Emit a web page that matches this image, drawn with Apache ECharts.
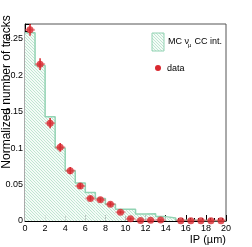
<!DOCTYPE html>
<html><head><meta charset="utf-8">
<script src="https://cdn.jsdelivr.net/npm/echarts@6/dist/echarts.min.js"></script>
<style>html,body{margin:0;padding:0;background:#fff}#c{width:252px;height:247px}</style>
</head><body><div id="c"></div>
<script>
// bin edges of the IP histogram (µm)
const binEdges = [0,1,2,3,4,5,6,7,8,9,10,11,12,13,14,15,16,17,18,19,20];
// bin centres for the data points
const binCenters = [0.5,1.5,2.5,3.5,4.5,5.5,6.5,7.5,8.5,9.5,10.5,11.5,12.5,13.5,14.5,15.5,16.5,17.5,18.5,19.5];
// MC nu_mu CC histogram contents
const mcValues = [0.258,0.213,0.143,0.100,0.069,0.052,0.039,0.031,0.023,0.016,0.016,0.0095,0.010,0.006,0.004,0.001,0.001,0.0008,0.0005,0.0005];
// data values and their errors (null = empty bin)
const dataValues = [0.262,0.215,0.134,0.101,0.069,0.048,0.031,0.029,0.023,0.012,0.003,0.0008,0.001,0.0012,null,0.0005,0.0005,0.0005,0.0005,0.0005];
const dataErrors = [0.008,0.008,0.007,0.006,0.005,0.004,0.003,0.003,0.003,0.002,0.0015,0.001,0.001,0.001,null,0.0005,0.0005,0.0005,0.0005,0.0005];
const xTicks = [0,2,4,6,8,10,12,14,16,18,20];
const yTicks = [0,0.05,0.1,0.15,0.2,0.25];

const RED = '#d9282f';
const GREEN = '#92d3b3';
const HATCH = '#bfe5d1';
const FONT = 'Liberation Sans';
const GAP = 3; // hatch spacing in px

// diagonal hatch lines clipped to a rectangle (texture only)
function hatchLines(x0, y0, w, h){
  const out = [];
  const x1 = x0 + w, y1 = y0 + h;
  const cMin = y0 - x1, cMax = y1 - x0;
  const start = Math.ceil(cMin / GAP) * GAP;
  for (let c = start; c <= cMax; c += GAP) {
    let xa = Math.max(x0, y0 - c), xb = Math.min(x1, y1 - c);
    if (xb <= xa) continue;
    out.push({type: 'line', silent: true,
      shape: {x1: xa, y1: xa + c, x2: xb, y2: xb + c},
      style: {stroke: HATCH, lineWidth: 1}});
  }
  return out;
}

const histData = binEdges.map((e, i) => [e, mcValues[Math.min(i, mcValues.length - 1)]]);
const binData = mcValues.map((v, i) => [binEdges[i], binEdges[i + 1], v]);
const pts = [];
binCenters.forEach((x, i) => { if (dataValues[i] !== null) pts.push([x, dataValues[i], dataErrors[i]]); });

const chart = echarts.init(document.getElementById('c'), null, {renderer: 'canvas'});
chart.setOption({
  animation: false,
  grid: {left: 25, right: 26, top: 24, bottom: 26, show: true, borderColor: '#555', borderWidth: 1},
  xAxis: {
    type: 'value', min: 0, max: 20, interval: 2,
    axisLine: {lineStyle: {color: '#000', width: 1}},
    axisTick: {inside: true, length: 6, lineStyle: {color: '#000'}},
    minorTick: {show: true, splitNumber: 5, length: 3, lineStyle: {color: '#000'}},
    splitLine: {show: false},
    axisLabel: {color: '#000', fontSize: 9, fontFamily: FONT, margin: 3,
      formatter: v => xTicks.includes(v) ? String(v) : ''}
  },
  yAxis: {
    type: 'value', min: 0, max: 0.27, interval: 0.05,
    axisLine: {show: true, lineStyle: {color: '#000', width: 1}},
    axisTick: {show: true, inside: true, length: 6, lineStyle: {color: '#000'}},
    minorTick: {show: true, splitNumber: 5, length: 3, lineStyle: {color: '#000'}},
    splitLine: {show: false},
    axisLabel: {color: '#000', fontSize: 9, fontFamily: FONT, margin: 2, showMaxLabel: false,
      formatter: v => { const t = yTicks.find(k => Math.abs(k - v) < 1e-9); return t === undefined ? '' : String(t); }}
  },
  series: [
    {
      type: 'custom', z: 1, clip: true, data: binData, silent: true,
      renderItem: (params, api) => {
        const a = api.coord([api.value(0), api.value(2)]);
        const b = api.coord([api.value(1), 0]);
        const x0 = a[0], y0 = a[1], w = b[0] - a[0], h = b[1] - a[1];
        return {type: 'group', children: [
          {type: 'rect', shape: {x: x0, y: y0, width: w, height: h}, style: {fill: '#f4fbf7', stroke: null}}
        ].concat(hatchLines(x0, y0, w, h))};
      }
    },
    {
      type: 'line', step: 'end', data: histData, symbol: 'none', z: 2,
      lineStyle: {color: GREEN, width: 1.5}
    },
    {
      type: 'custom', z: 3, clip: true, data: pts,
      renderItem: (params, api) => {
        const x = api.value(0), y = api.value(1), e = api.value(2);
        const a = api.coord([x - 0.5, y]), b = api.coord([x + 0.5, y]);
        const t = api.coord([x, y + e]), d = api.coord([x, y - e]);
        return {type: 'group', children: [
          {type: 'line', shape: {x1: a[0], y1: a[1], x2: b[0], y2: b[1]}, style: {stroke: 'rgba(222,80,85,0.55)', lineWidth: 2}},
          {type: 'line', shape: {x1: t[0], y1: t[1], x2: d[0], y2: d[1]}, style: {stroke: RED, lineWidth: 1.5}}
        ]};
      }
    },
    {
      type: 'scatter', z: 4, data: pts.map(p => [p[0], p[1]]), symbol: 'circle', symbolSize: 7,
      itemStyle: {color: RED}
    }
  ],
  graphic: [
    {type: 'text', x: 7, y: 92, rotation: Math.PI / 2,
      style: {text: 'Normalized number of tracks', fill: '#000', font: '12px "' + FONT + '"', align: 'center', verticalAlign: 'middle'}},
    {type: 'text', x: 226, y: 240,
      style: {text: 'IP (\u00b5m)', fill: '#000', font: '11px "' + FONT + '"', align: 'right', verticalAlign: 'middle'}},
    {type: 'group', children: [
      {type: 'rect', shape: {x: 152, y: 33, width: 12, height: 18}, style: {fill: '#f4fbf7', stroke: null}}
    ].concat(hatchLines(152, 33, 12, 18)).concat([
      {type: 'rect', shape: {x: 152, y: 33, width: 12, height: 18}, style: {fill: null, stroke: GREEN, lineWidth: 1}}
    ])},
    {type: 'text', x: 168, y: 42,
      style: {text: 'MC \u03bd', fill: '#000', font: '9px "' + FONT + '"', align: 'left', verticalAlign: 'middle'}},
    {type: 'text', x: 188, y: 45,
      style: {text: '\u03bc', fill: '#000', font: '6px "' + FONT + '"', align: 'left', verticalAlign: 'middle'}},
    {type: 'text', x: 192, y: 42,
      style: {text: ' CC int.', fill: '#000', font: '9px "' + FONT + '"', align: 'left', verticalAlign: 'middle'}},
    {type: 'circle', shape: {cx: 158, cy: 68, r: 3}, style: {fill: RED}},
    {type: 'text', x: 167, y: 69,
      style: {text: 'data', fill: '#000', font: '9px "' + FONT + '"', align: 'left', verticalAlign: 'middle'}}
  ]
});
</script></body></html>
